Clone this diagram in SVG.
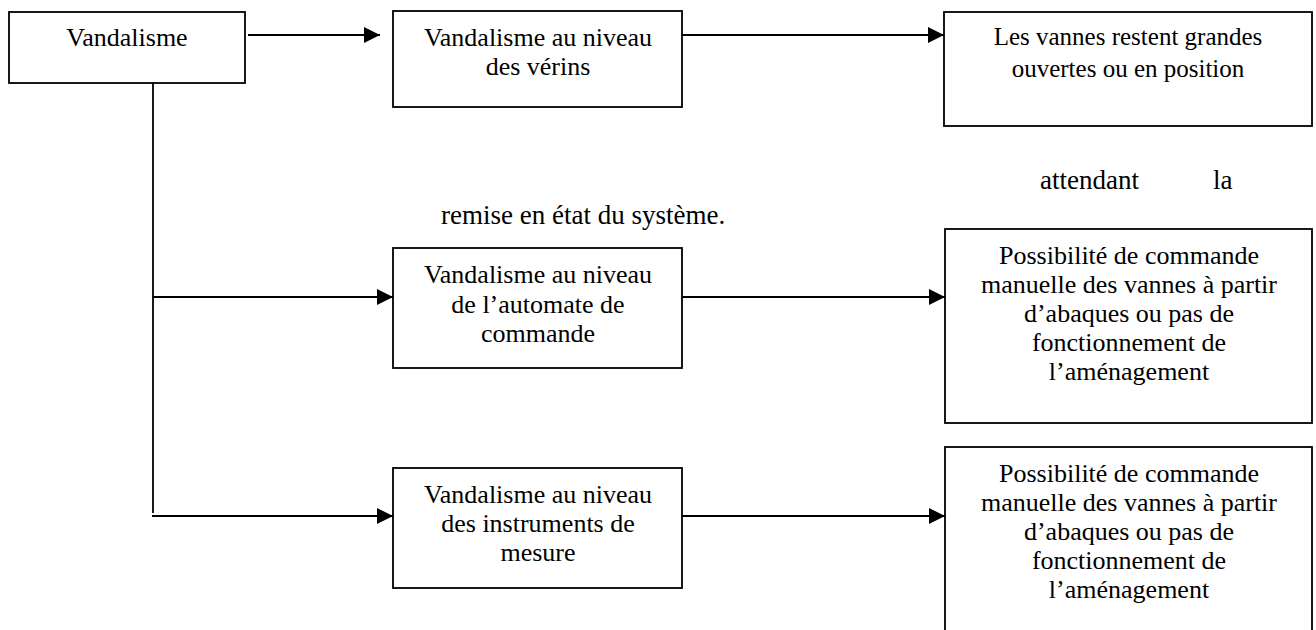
<svg xmlns="http://www.w3.org/2000/svg" width="1316" height="630" viewBox="0 0 1316 630">
<style>
.box{fill:#fff;stroke:#000;stroke-width:1.8}
.t{font-family:"Liberation Serif","Times New Roman",serif;font-size:26px;fill:#000;text-anchor:middle}
.t3{font-size:25px}
.ov{font-family:"Liberation Serif","Times New Roman",serif;font-size:27px;fill:#000}
.c{fill:none;stroke:#000;stroke-width:1.8}
</style>
<defs>
<marker id="ah" markerWidth="16" markerHeight="16" refX="16" refY="8" orient="auto" markerUnits="userSpaceOnUse"><path d="M0,0 L16,8 L0,16 Z" fill="#000"/></marker>
</defs>
<rect width="1316" height="630" fill="#fff"/>
<g id="connectors">
<path class="c" d="M248,35 H380" marker-end="url(#ah)"/>
<path class="c" d="M682,35 H944" marker-end="url(#ah)"/>
<path class="c" d="M153,83 V513"/>
<path class="c" d="M153,297 H393" marker-end="url(#ah)"/>
<path class="c" d="M682,297 H945" marker-end="url(#ah)"/>
<path class="c" d="M152,516 H393" marker-end="url(#ah)"/>
<path class="c" d="M682,516 H945" marker-end="url(#ah)"/>
</g>
<g id="n1"><rect class="box" x="9" y="12" width="236" height="71"/><text class="t" x="127" y="46">Vandalisme</text></g>
<g id="n2"><rect class="box" x="393" y="11" width="289" height="96"/><text class="t" x="538" y="46">Vandalisme au niveau</text><text class="t" x="538" y="75">des vérins</text></g>
<g id="n3"><rect class="box" x="944" y="12" width="368" height="114"/><text class="t t3" x="1128" y="45">Les vannes restent grandes</text><text class="t t3" x="1128" y="77">ouvertes ou en position</text></g>
<g id="overflow"><text class="ov" x="1040" y="189">attendant</text><text class="ov" x="1213" y="189">la</text><text class="ov" x="441" y="224">remise en état du système.</text></g>
<g id="n4"><rect class="box" x="393" y="248" width="289" height="120"/><text class="t" x="538" y="283">Vandalisme au niveau</text><text class="t" x="538" y="313">de l’automate de</text><text class="t" x="538" y="342">commande</text></g>
<g id="n5"><rect class="box" x="945" y="229" width="367" height="194"/><text class="t" x="1129" y="264">Possibilité de commande</text><text class="t" x="1129" y="293">manuelle des vannes à partir</text><text class="t" x="1129" y="322">d’abaques ou pas de</text><text class="t" x="1129" y="351">fonctionnement de</text><text class="t" x="1129" y="380">l’aménagement</text></g>
<g id="n6"><rect class="box" x="393" y="468" width="289" height="120"/><text class="t" x="538" y="503">Vandalisme au niveau</text><text class="t" x="538" y="532">des instruments de</text><text class="t" x="538" y="561">mesure</text></g>
<g id="n7"><rect class="box" x="945" y="447" width="367" height="200"/><text class="t" x="1129" y="482">Possibilité de commande</text><text class="t" x="1129" y="511">manuelle des vannes à partir</text><text class="t" x="1129" y="540">d’abaques ou pas de</text><text class="t" x="1129" y="569">fonctionnement de</text><text class="t" x="1129" y="598">l’aménagement</text></g>
</svg>
